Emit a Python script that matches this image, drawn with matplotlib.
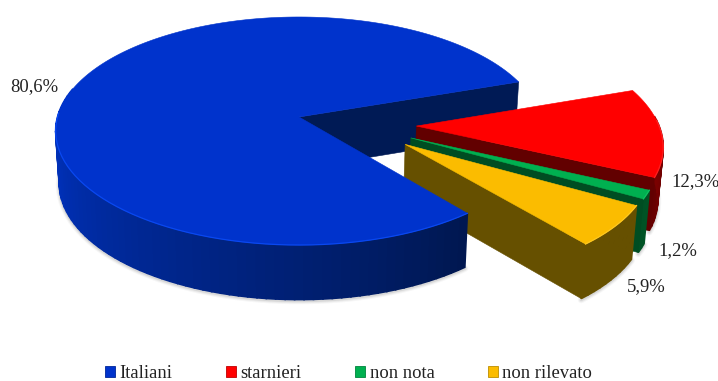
import numpy as np
import matplotlib
matplotlib.use("Agg")
import matplotlib.pyplot as plt
from matplotlib.patches import Polygon, Patch
from matplotlib.colors import to_rgb

# ---- data
categories = ["Italiani", "starnieri", "non nota", "non rilevato"]
shares = [80.6, 12.3, 1.2, 5.9]
share_labels = ["80,6%", "12,3%", "1,2%", "5,9%"]

# ---- styles
top_colors = ["#0033CC", "#FF0000", "#00B050", "#FBBC00"]
rim_colors = ["#0A48F0", "#FF2020", "#10C060", "#FFC820"]
wall_colors = ["#001A55", "#620000", "#004D22", "#665000"]
outer_dark = ["#00174F", "#5E0000", "#004D22", "#665000"]
outer_light = ["#0033C4", "#9A0000", "#005C2A", "#665000"]
label_pos = [(10, 87), (671, 182), (658, 251), (627, 287)]
explode_dist = [0.0, 0.488, 0.488, 0.488]
explode_dir = [0.0, -9.4, -21.9, -29.0]
slice_radius = [1.0, 0.995, 0.985, 0.975]

# ---- perspective model of the 3-D pie
CX, CY = 299.0, 117.0
A, B, K = 241.5, 112.3, 0.1228
DEPTH, SX, SY = 52.0, 0.985, 1.02
START = -50.9        # lower cut of the big slice; slices run clockwise from it


def project(x, y, base=False):
    w = 1 + K * y
    X, Y = A * x / w, B * y / w
    if base:
        return CX + SX * X, CY + DEPTH - SY * Y
    return CX + X, CY - Y


fig = plt.figure(figsize=(7.18, 3.81), dpi=100)
ax = fig.add_axes([0, 0, 1, 1])
ax.set_xlim(0, 718)
ax.set_ylim(381, 0)
ax.axis("off")
plt.rcParams["font.family"] = ["Liberation Serif"]

# angular spans from the data (the big slice runs from START round to its upper cut,
# the exploded slices then continue clockwise from that upper cut)
spans = []
a = START
for i, v in enumerate(shares):
    sweep = v / sum(shares) * 360.0
    spans.append((a, a - sweep))
    a -= sweep
    if i == 0:
        a += 360.0
BLUE_UPPER_CUT = spans[0][1] + 360.0


def center(i):
    t = np.radians(explode_dir[i])
    return explode_dist[i] * np.cos(t), explode_dist[i] * np.sin(t)


def rim_point(i, theta):
    cx, cy = center(i)
    t = np.radians(theta)
    return cx + slice_radius[i] * np.cos(t), cy + slice_radius[i] * np.sin(t)


def lerp(c0, c1, f):
    c0, c1 = np.array(to_rgb(c0)), np.array(to_rgb(c1))
    return tuple(c0 + (c1 - c0) * f)


def poly(pts, color, z, lw=0.4):
    ax.add_patch(Polygon(pts, closed=True, fc=color, ec=color, lw=lw, zorder=z))


def cut_wall(i, theta, z, color):
    cx, cy = center(i)
    ex, ey = rim_point(i, theta)
    poly([project(cx, cy), project(ex, ey), project(ex, ey, True), project(cx, cy, True)], color, z)


def outer_wall(i, t0, t1, z, shade_dark, shade_light):
    """front rim drawn as narrow strips so that the shade follows the angle"""
    n = max(int(abs(t1 - t0) * 0.5), 2)
    edges = np.linspace(t0, t1, n + 1)
    for e0, e1 in zip(edges[:-1], edges[1:]):
        m = 0.5 * (e0 + e1)
        f = np.clip((m - shade_dark) / (shade_light - shade_dark), 0, 1)
        col = lerp(outer_dark[i], outer_light[i], f)
        p0, p1 = rim_point(i, e0), rim_point(i, e1)
        poly([project(*p0), project(*p1), project(*p1, True), project(*p0, True)], col, z, lw=1.2)
    # soft shadow below the rim
    x, y = rim_point(i, np.linspace(t0, t1, 240))
    bx, by = project(x, y, True)
    for w, al in zip((5, 3.5, 2), (0.05, 0.08, 0.12)):
        ax.plot(bx, by + 1.2, color="#555555", lw=w, alpha=al, zorder=0.5,
                solid_capstyle="round")


def top_face(i, z):
    cx, cy = center(i)
    th = np.linspace(spans[i][0], spans[i][1], 240)
    x, y = rim_point(i, th)
    px, py = project(x, y)
    poly([project(cx, cy)] + list(zip(px, py)), top_colors[i], z)
    # bevel light on the front rim
    mask = np.sin(np.radians(th)) < 0.05
    ax.plot(np.where(mask, px, np.nan), np.where(mask, py, np.nan),
            color=rim_colors[i], lw=0.9, zorder=z + 0.01)


# far inner wall of the big slice (the upper cut)
cut_wall(0, BLUE_UPPER_CUT, 1, wall_colors[0])

# exploded slices, back to front
z = 2
for i in (1, 2, 3):
    t0, t1 = spans[i]
    outer_wall(i, t1, min(t0, 5), z, t1 - 5, t0 + 10)
    cut_wall(i, t1, z + 0.2, wall_colors[i])
    top_face(i, z + 0.4)
    z += 1

# big slice in front
outer_wall(0, -195, START, 6, -50, -180)
top_face(0, 6.5)

# data labels
for text, (x, y) in zip(share_labels, label_pos):
    ax.text(x, y, text, ha="left", va="center", fontsize=13.4, color="#222222",
            family="Liberation Serif", zorder=10)

# legend
handles = [Patch(fc=c, ec=lerp(c, "#000000", 0.25), lw=0.6) for c in top_colors]
ax.legend(handles, categories, ncol=4, frameon=False, loc="lower left",
          bbox_to_anchor=(105 / 718, -1.0 / 381), borderaxespad=0, borderpad=0,
          prop={"family": "Liberation Serif", "size": 13.4},
          handlelength=0.54, handleheight=0.54, handletextpad=0.22,
          columnspacing=2.9, labelcolor="#222222")

fig.savefig("out.png", dpi=100)
